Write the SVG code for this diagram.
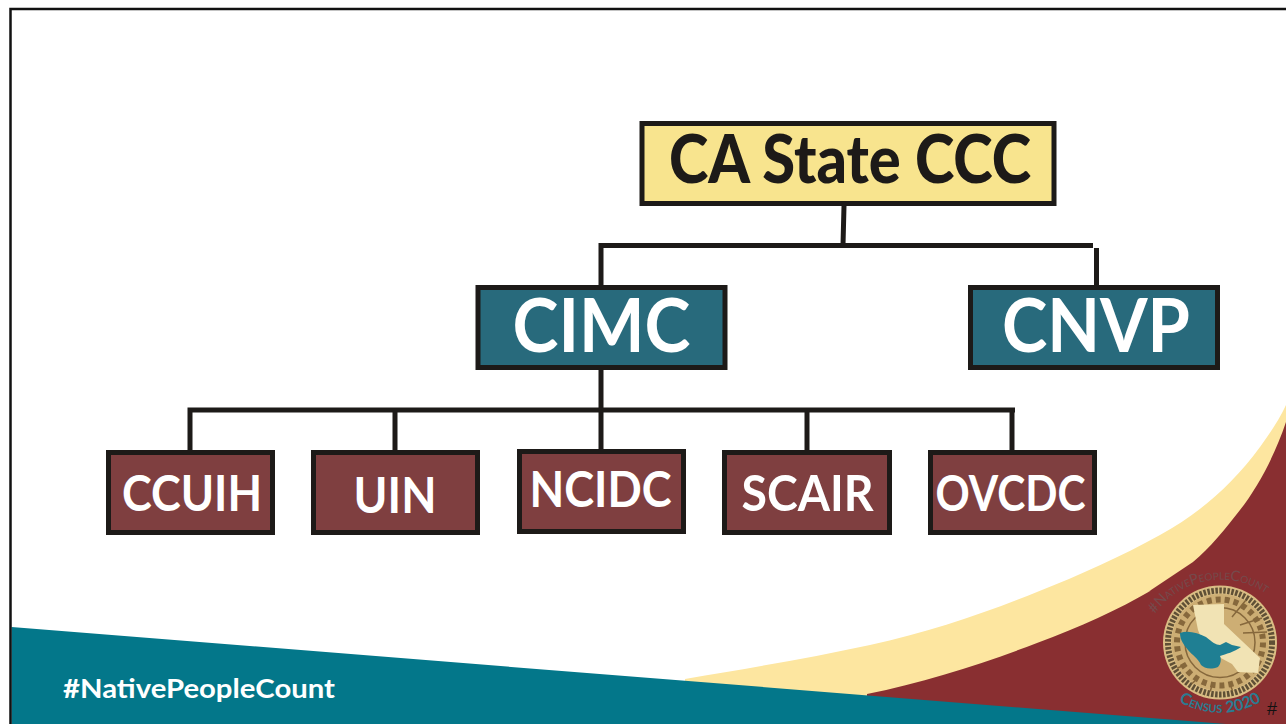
<svg xmlns="http://www.w3.org/2000/svg" width="1286" height="724" viewBox="0 0 1286 724">
<style>
text{font-family:Lato,"Open Sans","Liberation Sans",sans-serif;text-anchor:middle}
.box{stroke:#1d1a18;stroke-width:5}
.yl{fill:#f8e48e}.tl{fill:#286a7c}.rd{fill:#7f3f40}
.big{font-weight:700;fill:#fff;font-size:74px}
.sm{font-weight:700;fill:#fff;font-size:50px}
.link{fill:none;stroke:#1d1a18;stroke-width:5}
.arc{font-variant:small-caps}
</style>
<defs>
<path id="arcTop" d="M1155 614A80 80 0 0 1 1285 612"/>
<path id="arcBot" d="M1172 697A81 81 0 0 0 1268 697"/>
<clipPath id="sealClip"><circle cx="1220" cy="642.500" r="50"/></clipPath>
</defs>
<g id="background">
<rect width="1286" height="724" fill="#fff"/>
<path d="M685 679C750 668 810 658 870 645C930 632 985 613 1037 592C1080 575 1122 556 1160 535C1200 513 1232 485 1260 447C1270 433 1279 420 1286 405V724H685Z" fill="#fde6a0"/>
<path d="M867 694C925 682 985 663 1037 643C1080 627 1118 610 1152 590L1148 592L1193 562C1210 548 1226 528 1240 510C1258 487 1275 455 1286 422V724H867Z" fill="#892f31"/>
<path d="M11.500 627L1226 724H11.500Z" fill="#03778a"/>
<path d="M10.500 724V9H1286" fill="none" stroke="#111" stroke-width="2.500"/>
<text x="199" y="698" style="font-size:27px;font-weight:700;fill:#fff" textLength="272" lengthAdjust="spacingAndGlyphs">#NativePeopleCount</text>
</g>
<g id="connectors" class="link">
<path d="M844 206L843 245M601 285V245.500H1093M1096.500 248V285"/>
<path d="M601 370V410M190 450V410H1015M395 410V450M601 410V449M807 410V450M1012 410V450"/>
</g>
<g id="node-ca-state-ccc"><rect class="box yl" x="642" y="123.500" width="412" height="80"/><text x="850" y="183" textLength="362" lengthAdjust="spacingAndGlyphs" style="font-size:66px;font-weight:900;fill:#1d1a18">CA State CCC</text></g>
<g id="node-cimc"><rect class="box tl" x="478" y="287.500" width="247" height="80"/><text class="big" x="601.500" y="352" textLength="178" lengthAdjust="spacingAndGlyphs">CIMC</text></g>
<g id="node-cnvp"><rect class="box tl" x="970.500" y="287.500" width="247" height="80"/><text class="big" x="1096" y="352" textLength="188" lengthAdjust="spacingAndGlyphs">CNVP</text></g>
<g id="node-ccuih"><rect class="box rd" x="108.500" y="452.500" width="164" height="80"/><text class="sm" x="192" y="511" textLength="140" lengthAdjust="spacingAndGlyphs">CCUIH</text></g>
<g id="node-uin"><rect class="box rd" x="313.500" y="452.500" width="164" height="80"/><text class="sm" x="395" y="513" textLength="83" lengthAdjust="spacingAndGlyphs">UIN</text></g>
<g id="node-ncidc"><rect class="box rd" x="519.500" y="451.500" width="164" height="80"/><text class="sm" x="600.500" y="507" textLength="142" lengthAdjust="spacingAndGlyphs">NCIDC</text></g>
<g id="node-scair"><rect class="box rd" x="724.500" y="452.500" width="165" height="80"/><text class="sm" x="807.500" y="511" textLength="132" lengthAdjust="spacingAndGlyphs">SCAIR</text></g>
<g id="node-ovcdc"><rect class="box rd" x="930.500" y="452.500" width="164" height="80"/><text class="sm" x="1010.500" y="511" textLength="150" lengthAdjust="spacingAndGlyphs">OVCDC</text></g>
<g id="seal">
<circle cx="1220" cy="642.500" r="57" fill="#d9bd84"/>
<circle cx="1220" cy="642.500" r="52" fill="none" stroke="#5f5036" stroke-width="6" stroke-dasharray="2.500 1.500"/>
<circle cx="1220" cy="642.500" r="48.500" fill="#cdae74"/>
<g clip-path="url(#sealClip)" fill="none" stroke="#86683c">
<circle cx="1220" cy="642.500" r="43" stroke-width="6" stroke-dasharray="5 4"/>
<circle cx="1220" cy="642.500" r="35" stroke-width="1.500"/>
<path stroke-width="1.500" d="M1240 625L1262 618M1243 633L1267 632M1232 617L1246 600M1196 680L1180 694M1212 685L1208 700M1230 684L1236 700M1185 665L1168 672"/>
</g>
<path d="M1193 605L1224 604L1224 624L1260 658L1258 673L1238 672L1232 664L1206 650L1198 630Z" fill="#f1e3b4"/>
<path d="M1180 633C1188 630 1198 633 1206 637C1212 642 1216 645 1220 645L1226 642L1232 645L1241 647C1234 652 1226 654 1220 656C1222 660 1220 665 1218 667C1210 670 1204 668 1201 665C1198 658 1192 655 1188 650C1184 645 1180 640 1180 633Z" fill="#1f7f93"/>
<text class="arc" style="font-size:14.500px;fill:#754a4c;text-anchor:start"><textPath href="#arcTop" startOffset="0">#NativePeopleCount</textPath></text>
<text class="arc" style="font-size:16px;font-weight:700;fill:#2a7c92"><textPath href="#arcBot" startOffset="50%">Census 2020</textPath></text>
</g>
<text id="slide-number" x="1272" y="715" style="font-size:18px;fill:#111;font-family:'Liberation Sans',sans-serif">#</text>
</svg>
